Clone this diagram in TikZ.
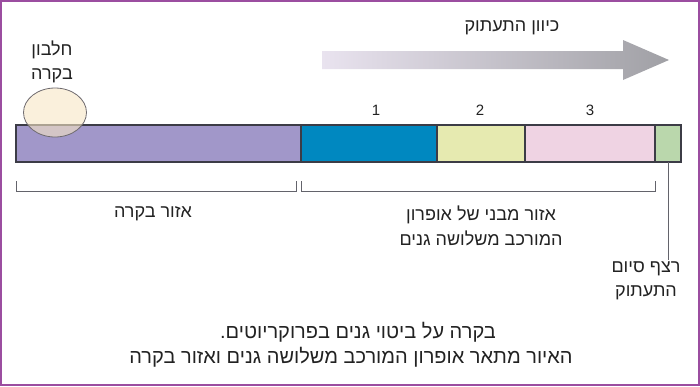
\documentclass[tikz,border=0pt]{standalone}
\usepackage{fontspec}
\usetikzlibrary{shapes.geometric}
\newfontfamily\heb[Script=Hebrew]{Liberation Sans}
\TeXXeTstate=1
\definecolor{framec}{HTML}{9B4DA0}
\definecolor{regc}{HTML}{A197C9}
\definecolor{gene1}{HTML}{0088C0}
\definecolor{gene2}{HTML}{E6EAB0}
\definecolor{gene3}{HTML}{EFD3E3}
\definecolor{termc}{HTML}{BAD7AC}
\definecolor{edgec}{HTML}{3C3C46}
\definecolor{protc}{HTML}{F7E6C5}
\definecolor{protedge}{HTML}{6E6A6E}
\definecolor{arrowL}{HTML}{E9E3EF}
\definecolor{arrowR}{HTML}{A0A0A5}
\definecolor{txtc}{HTML}{222222}
\tikzset{
  seg/.style={draw=edgec, line width=1.4pt, rectangle, inner sep=0pt, outer sep=0pt, minimum height=37pt, anchor=north west},
  lbl/.style={font=\heb\fontsize{18}{24.5}\selectfont, text=txtc, align=center, inner sep=1pt},
  numstyle/.style={font=\heb\fontsize{15}{16}\selectfont, text=txtc, inner sep=1pt},
  capstyle/.style={font=\heb\fontsize{20}{24}\selectfont, text=txtc, align=center, inner sep=1pt},
  brk/.style={draw=edgec!80, line width=1pt},
}
\begin{document}
\begin{tikzpicture}[x=1pt,y=-1pt]
\useasboundingbox (0,0) rectangle (700,386);
\draw[framec, line width=2pt] (1,1) rectangle (698.5,385);

% direction arrow
\shade[left color=arrowL, right color=arrowR] (322,51) -- (623,51) -- (623,40) -- (669,60) -- (623,80) -- (623,69) -- (322,69) -- cycle;
\node[lbl] (dir) at (512,28) {\beginR כיוון התעתוק\endR};

% bar segments
\node[seg, fill=regc, minimum width=285pt] (reg) at (16,125) {};
\node[seg, fill=gene1, minimum width=136pt] (g1) at (301,125) {};
\node[seg, fill=gene2, minimum width=88pt] (g2) at (437,125) {};
\node[seg, fill=gene3, minimum width=130pt] (g3) at (525,125) {};
\node[seg, fill=termc, minimum width=26pt] (term) at (655,125) {};

% gene numbers
\node[numstyle] (n1) at (376,110) {1};
\node[numstyle] (n2) at (480,110) {2};
\node[numstyle] (n3) at (590,110) {3};

% regulatory protein
\node[draw=protedge, line width=0.8pt, fill=protc, fill opacity=0.6, ellipse, minimum width=63pt, minimum height=49pt, inner sep=0pt] (prot) at (55,112.5) {};
\node[lbl] (protl) at (52,62) {\beginR חלבון\endR\\\beginR בקרה\endR};

% brackets
\coordinate (b1a) at (16,181);
\coordinate (b1b) at (296,181);
\coordinate (b2a) at (301,181);
\coordinate (b2b) at (655,181);
\draw[brk] (b1a) -- ++(0,10) -| (b1b);
\draw[brk] (b2a) -- ++(0,10) -| (b2b);
\node[lbl] (regl) at (153,214) {\beginR אזור בקרה\endR};
\node[lbl] (opl) at (481,226) {\beginR אזור מבני של אופרון\endR\\\beginR המורכב משלושה גנים\endR};

% terminator
\node[lbl] (terml) at (646,281) {\beginR רצף סיום\endR\\\beginR התעתוק\endR};
\draw[brk] (term.south) -- (term.south |- terml.north);

% caption
\node[capstyle] (cap1) at (358,332) {\beginR בקרה על ביטוי גנים בפרוקריוטים.\endR};
\node[capstyle] (cap2) at (351,357) {\beginR האיור מתאר אופרון המורכב משלושה גנים ואזור בקרה\endR};
\end{tikzpicture}
\end{document}
